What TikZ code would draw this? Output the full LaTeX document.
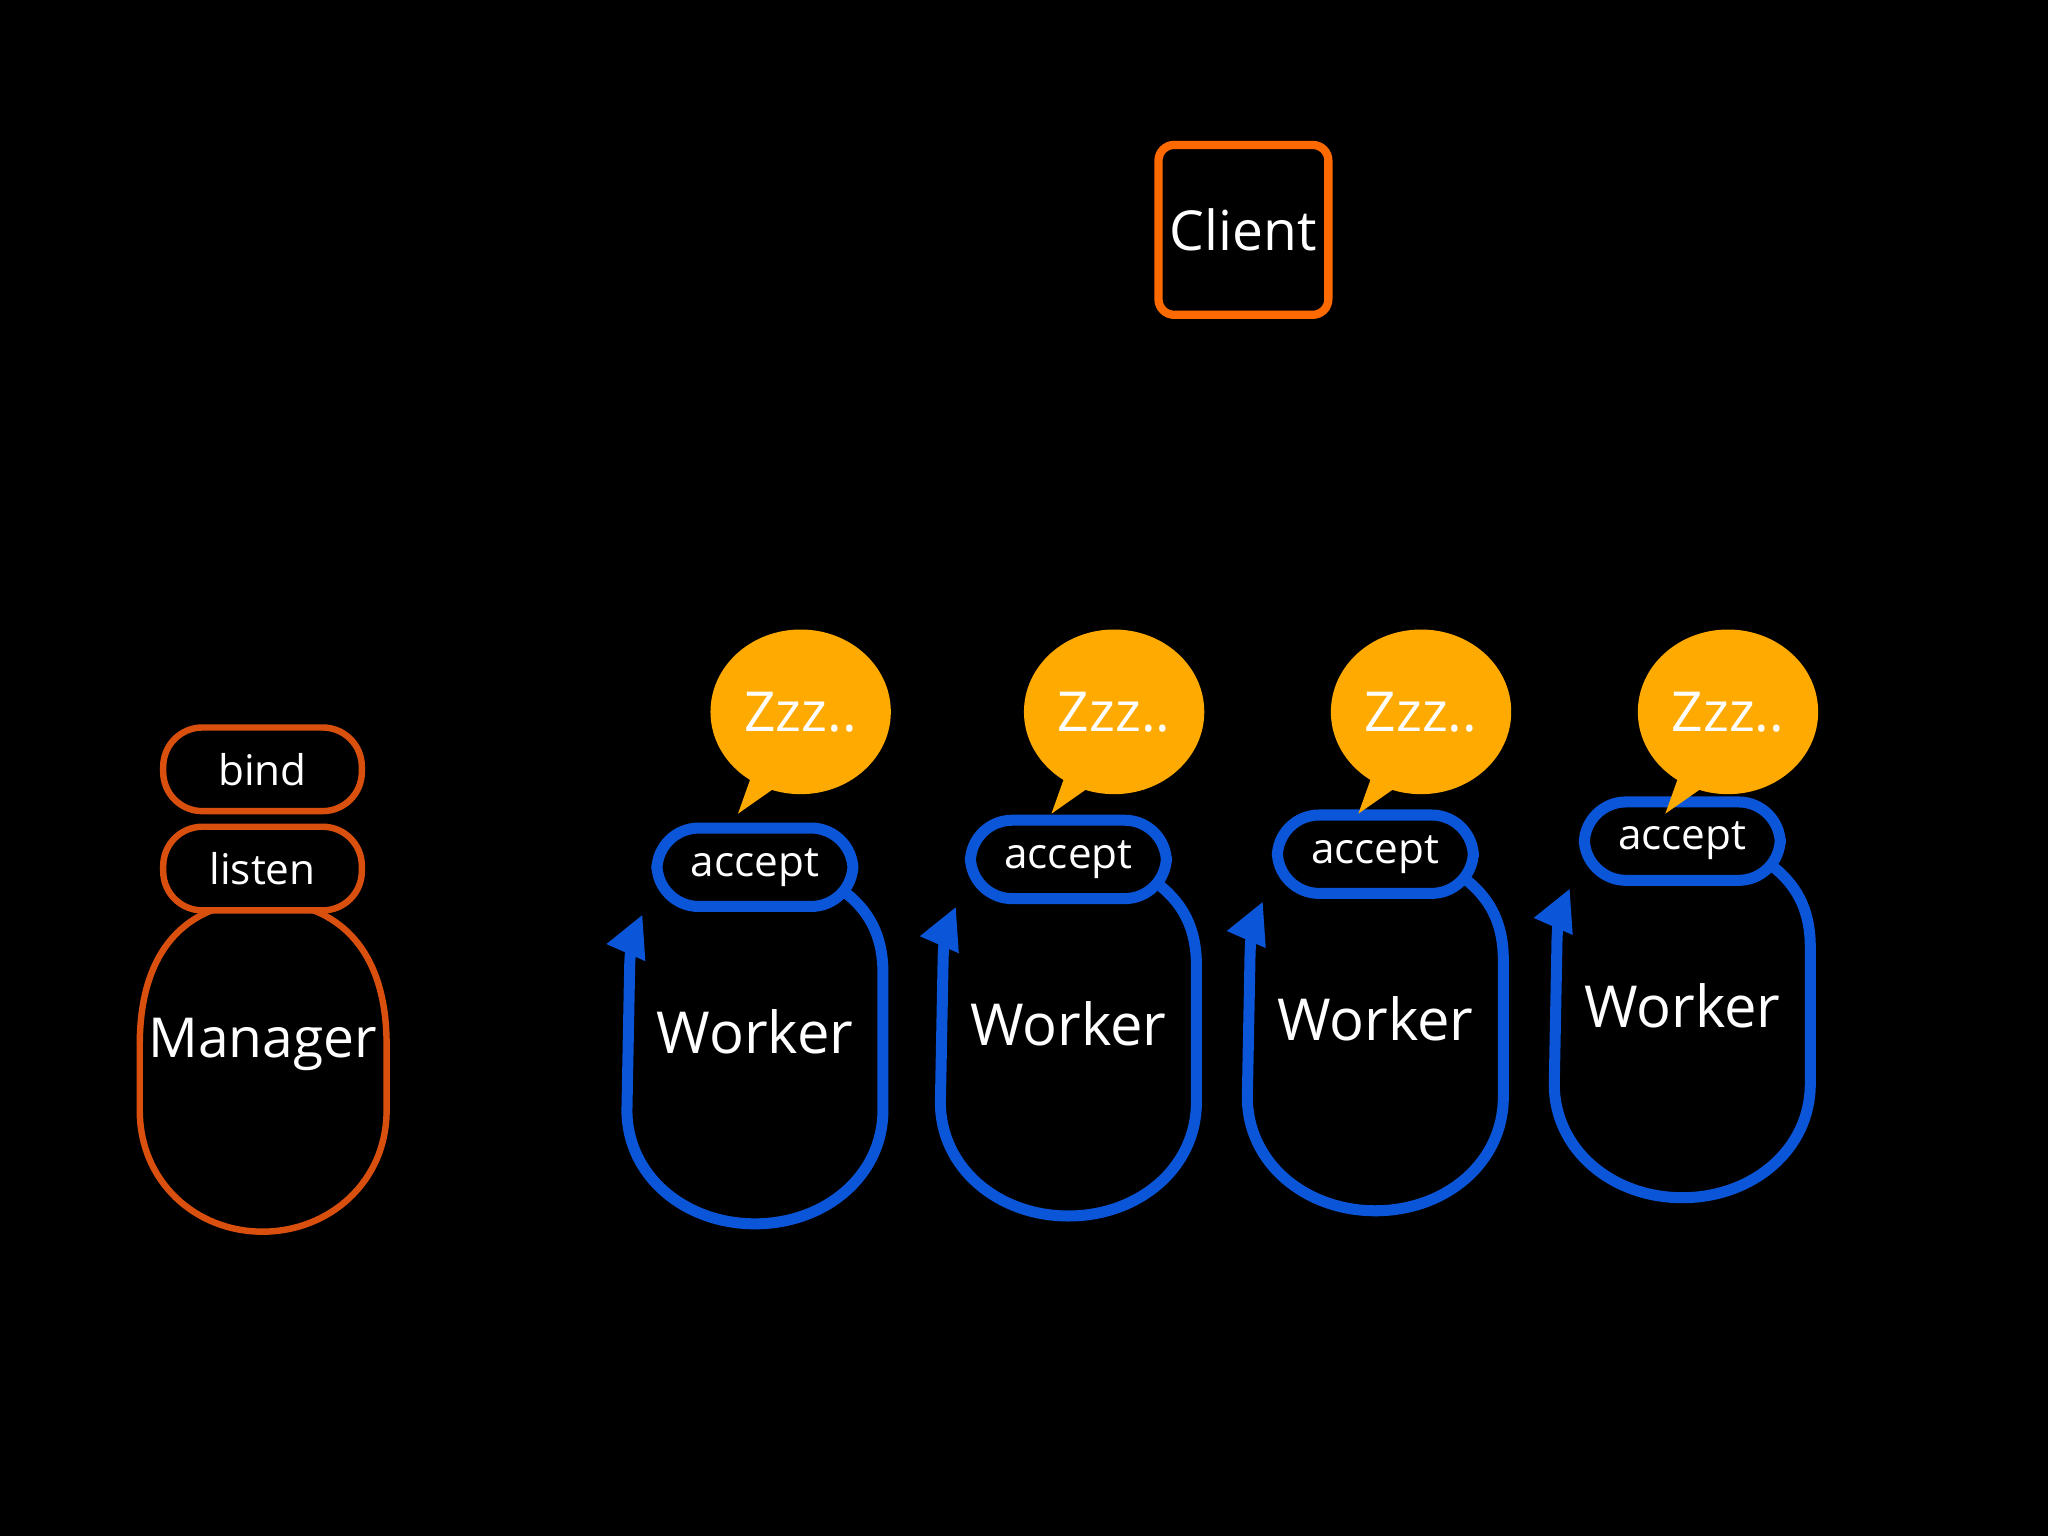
\documentclass[tikz,border=0pt]{standalone}
\usepackage{fontspec}
\setmainfont{Open Sans}
\usetikzlibrary{arrows.meta,shapes.geometric}
\definecolor{orng}{HTML}{FF6A00}
\definecolor{mgr}{HTML}{D9500E}
\definecolor{wblue}{HTML}{0A55D8}
\definecolor{zz}{HTML}{FFAA00}
\tikzset{
 lbl/.style={text=white,font=\fontsize{12.6pt}{12.6pt}\selectfont},
 small/.style={text=white,font=\fontsize{9.2pt}{9.2pt}\selectfont},
 pill/.style={draw=#1,line width=1.4pt,rounded corners=0.3cm,minimum width=1.52cm,minimum height=0.64cm,small},
 wpill/.style={draw=wblue,line width=2.4pt,rounded corners=0.32cm,minimum width=1.5cm,minimum height=0.6cm,small},
 body/.style={draw=wblue,line width=2.4pt,-{Triangle[length=0.32cm,width=0.3cm]}},
 zzz/.style={fill=zz,ellipse,inner sep=0pt,minimum width=1.38cm,minimum height=1.26cm,text=white,font=\fontsize{12pt}{12pt}\selectfont}
}
\begin{document}
\begin{tikzpicture}[x=0.01cm,y=-0.01cm]
\fill[black] (0,0) rectangle (1568,1176);
\useasboundingbox (0,0) rectangle (1568,1176);
% client
\node[draw=orng,line width=1.8pt,rounded corners=0.12cm,inner sep=0pt,minimum width=1.3cm,minimum height=1.3cm,lbl,font=\fontsize{12pt}{12pt}\selectfont] (client) at (952,176) {Client};
% manager
\draw[mgr,line width=1.4pt] (107,800) .. controls (107,720) and (150,690) .. (201,690) .. controls (252,690) and (296,720) .. (296,800) -- (296,850) .. controls (296,905) and (252,943) .. (201,943) .. controls (150,943) and (107,905) .. (107,850) -- cycle;
\node[lbl,font=\fontsize{12pt}{12pt}\selectfont] (manager) at (201,800) {Manager};
\node[pill=mgr,fill=black] (listen) at (201,665) {listen};
\node[pill=mgr,fill=black] (bind) at (201,589) {bind};
% workers
\foreach \dx/\dy/\i in {0/0/1,240/-6/2,475/-10/3,710/-20/4}{
 \begin{scope}[shift={(\dx,\dy)}]
 \draw[body] (648,684) .. controls (668,700) and (676,720) .. (676,745) -- (676,850) .. controls (676,900) and (632,937) .. (578,937) .. controls (524,937) and (480,900) .. (480,850) -- (482,745) .. controls (482,728) and (485,716) .. (492,700);
 \node[lbl] (worker\i) at (578,790) {Worker};
 \node[wpill,fill=black] (accept\i) at (578,664) {accept};
 \end{scope}
 \begin{scope}[shift={(\dx,0)}]
 \fill[zz] (575,595) -- (565,623) -- (605,595) -- cycle;
 \node[zzz] (zzz\i) at (613,545) {Zzz..};
 \end{scope}
}
\end{tikzpicture}
\end{document}
